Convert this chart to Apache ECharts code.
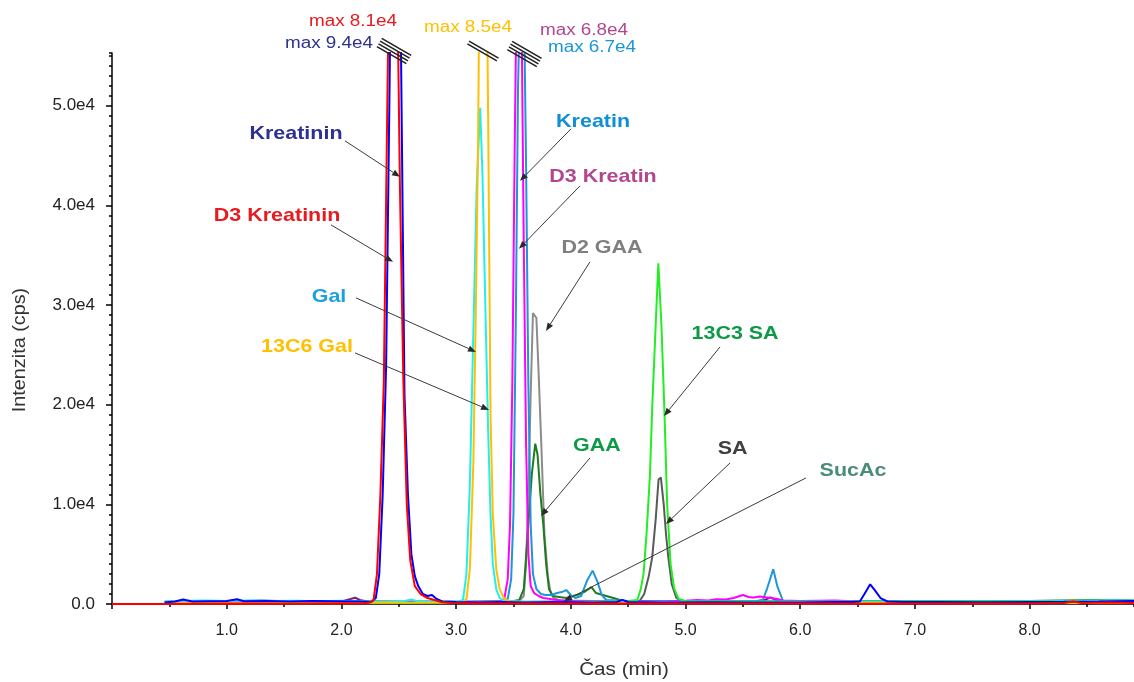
<!DOCTYPE html>
<html><head><meta charset="utf-8">
<script src="https://cdn.jsdelivr.net/npm/echarts@6/dist/echarts.min.js"></script>
<style>html,body{margin:0;padding:0;background:#fff}#c{width:1134px;height:682px}</style>
</head><body><div id="c"></div>
<script>
// ---- data: [time (min), intensity (cps)] ----
const sucAc = [[0.46,200],[1.0,220],[1.5,200],[2.0,250],[2.08,500],[2.12,630],[2.16,400],[2.25,200],[2.8,200],[3.5,200],[4.0,250],[4.5,200],[5.0,200],[5.6,250],[5.70,450],[5.74,670],[5.79,400],[5.85,250],[6.5,200],[7.5,220],[8.4,250],[8.91,250]];
const d2gaa = [[0.46,250],[1.0,280],[1.5,250],[2.0,270],[2.5,250],[3.0,230],[3.50,200],[3.55,300],[3.59,800],[3.61,4000],[3.63,11000],[3.65,21000],[3.67,29200],[3.70,28700],[3.72,23000],[3.745,15300],[3.77,7000],[3.80,2800],[3.82,1400],[3.85,600],[3.9,350],[4.2,300],[4.6,250],[5.0,250],[5.5,230],[6.0,250],[6.5,250],[7.0,230],[7.5,250],[8.0,270],[8.5,300],[8.91,300]];
const sa = [[0.46,200],[1.5,220],[2.5,200],[3.5,200],[4.55,200],[4.60,300],[4.64,1000],[4.68,2800],[4.71,4700],[4.74,8500],[4.765,12500],[4.785,12700],[4.81,10000],[4.83,7000],[4.85,4700],[4.88,2000],[4.92,600],[4.96,300],[5.5,200],[6.5,200],[7.5,220],[8.5,250],[8.91,250]];
const gaa = [[0.46,200],[0.7,300],[1.0,250],[1.3,350],[1.6,250],[1.9,300],[2.2,250],[2.6,200],[3.0,200],[3.50,300],[3.55,400],[3.59,1500],[3.63,8000],[3.66,13000],[3.69,16100],[3.71,15000],[3.735,11000],[3.76,8000],[3.785,4000],[3.81,1500],[3.84,800],[3.90,700],[3.96,600],[4.02,800],[4.08,1000],[4.13,1300],[4.18,1700],[4.22,1100],[4.28,900],[4.34,700],[4.40,500],[4.46,300],[4.8,250],[5.2,250],[5.6,250],[6.0,220],[6.5,250],[7.0,250],[7.5,280],[8.0,300],[8.3,350],[8.6,400],[8.91,300]];
const kreatin = [[0.46,200],[0.8,250],[1.2,220],[1.6,260],[2.0,230],[2.4,200],[2.8,250],[3.2,200],[3.40,250],[3.45,500],[3.48,2500],[3.50,9000],[3.52,28000],[3.54,52000],[3.57,67000],[3.59,62000],[3.61,44000],[3.63,22000],[3.65,8000],[3.67,3000],[3.70,1500],[3.74,1000],[3.78,900],[3.83,900],[3.88,1100],[3.92,1200],[3.96,1400],[4.00,900],[4.04,600],[4.09,800],[4.14,2300],[4.19,3350],[4.23,2300],[4.27,900],[4.31,400],[4.6,250],[5.0,200],[5.4,250],[5.60,250],[5.67,300],[5.71,1500],[5.765,3500],[5.80,1800],[5.85,300],[6.2,250],[6.8,220],[7.4,250],[8.0,260],[8.5,300],[8.75,400],[8.91,350]];
const d3kreatin = [[0.46,150],[1.0,200],[1.5,180],[2.0,200],[2.5,150],[3.0,200],[3.38,250],[3.42,500],[3.45,2500],[3.47,8000],[3.49,22000],[3.51,45000],[3.53,64000],[3.55,68000],[3.57,60000],[3.59,36000],[3.61,16000],[3.63,5000],[3.65,1800],[3.68,1100],[3.72,800],[3.76,600],[3.82,500],[3.88,400],[4.0,300],[4.4,250],[4.8,250],[5.0,330],[5.1,400],[5.2,350],[5.27,470],[5.35,450],[5.42,600],[5.50,900],[5.55,700],[5.59,650],[5.65,750],[5.74,600],[5.80,500],[5.85,350],[6.0,300],[6.3,350],[6.5,250],[7.0,200],[7.5,200],[8.0,220],[8.5,250],[8.91,250]];
const c13sa = [[0.46,150],[1.0,100],[1.5,150],[2.0,120],[2.5,100],[3.0,150],[3.5,150],[4.0,200],[4.50,300],[4.58,400],[4.61,1500],[4.635,3100],[4.66,7000],[4.69,13000],[4.71,19800],[4.74,28000],[4.763,34200],[4.79,28000],[4.815,19800],[4.84,10000],[4.87,4000],[4.90,1600],[4.94,500],[5.0,300],[5.5,250],[6.0,250],[6.5,250],[7.0,280],[7.5,300],[8.0,300],[8.5,350],[8.91,350]];
const gal = [[0.46,250],[0.6,300],[0.8,350],[1.0,300],[1.2,350],[1.4,300],[1.6,320],[1.8,280],[2.0,330],[2.2,250],[2.4,200],[2.55,300],[2.61,450],[2.67,250],[2.8,200],[3.02,250],[3.06,400],[3.09,3000],[3.12,12000],[3.15,27200],[3.18,42000],[3.21,49800],[3.23,43000],[3.26,27200],[3.28,17100],[3.30,9000],[3.32,4000],[3.35,1500],[3.38,600],[3.42,300],[3.6,250],[3.9,200],[4.3,200],[4.8,200],[5.3,180],[5.8,200],[6.3,200],[6.8,180],[7.3,200],[7.8,200],[8.2,250],[8.5,300],[8.7,350],[8.91,300]];
const c13gal = [[0.46,100],[1.0,100],[2.0,120],[3.0,150],[3.06,200],[3.09,500],[3.12,3500],[3.15,14000],[3.17,28000],[3.19,45000],[3.21,70000],[3.235,85000],[3.26,72000],[3.28,48000],[3.30,19000],[3.32,9000],[3.35,3500],[3.38,1500],[3.42,500],[3.47,250],[3.6,150],[4.5,100],[6.0,100],[8.91,100]];
const kreatinin = [[0.46,150],[0.55,250],[0.62,450],[0.70,250],[0.85,280],[1.00,300],[1.09,470],[1.15,280],[1.35,300],[1.55,260],[1.75,300],[1.95,280],[2.15,250],[2.26,200],[2.30,600],[2.33,3000],[2.36,11000],[2.39,24000],[2.42,52000],[2.45,86000],[2.47,94000],[2.49,84000],[2.52,55000],[2.55,21000],[2.58,11000],[2.61,5000],[2.64,2800],[2.67,1800],[2.71,1000],[2.75,800],[2.79,900],[2.83,500],[2.88,250],[3.0,200],[3.2,150],[3.4,200],[3.6,150],[3.9,200],[4.2,150],[4.40,200],[4.45,420],[4.50,200],[4.8,150],[5.2,180],[5.6,150],[6.0,150],[6.3,200],[6.45,200],[6.52,250],[6.56,1000],[6.61,1980],[6.65,1400],[6.70,600],[6.76,250],[6.9,200],[7.2,200],[7.6,180],[8.0,200],[8.3,220],[8.6,250],[8.91,300]];
const d3kreatinin = [[0,0],[0.5,0],[1.0,50],[1.5,30],[2.0,80],[2.2,50],[2.25,150],[2.28,400],[2.31,3000],[2.34,11000],[2.37,22400],[2.40,50000],[2.43,76000],[2.45,81000],[2.47,74000],[2.49,60000],[2.51,42000],[2.54,22400],[2.57,10000],[2.60,4400],[2.64,1800],[2.69,1000],[2.75,600],[2.81,400],[2.87,200],[2.95,100],[3.2,50],[3.6,40],[4.0,60],[4.5,40],[5.0,50],[5.5,40],[6.0,50],[6.5,30],[7.0,50],[7.5,40],[8.0,60],[8.3,100],[8.38,250],[8.45,100],[8.7,150],[8.91,100]];

// ---- axis texts ----
const xTitle = 'Čas (min)';
const yTitle = 'Intenzita (cps)';

// ---- traces (drawing order: last on top) ----
const traces = [
  {name:'SucAc', data:sucAc, color:'#7B1F7B'},
  {name:'D2 GAA', data:d2gaa, color:'#8C8C8C'},
  {name:'SA', data:sa, color:'#5A5A5A'},
  {name:'GAA', data:gaa, color:'#1E7B1E'},
  {name:'Kreatin', data:kreatin, color:'#1E96D8'},
  {name:'D3 Kreatin', data:d3kreatin, color:'#FF00FF'},
  {name:'13C3 SA', data:c13sa, color:'#22EE22'},
  {name:'Gal', data:gal, color:'#22EEEE'},
  {name:'13C6 Gal', data:c13gal, color:'#FFC000'},
  {name:'Kreatinin', data:kreatinin, color:'#0000FF'},
  {name:'D3 Kreatinin', data:d3kreatinin, color:'#FF0000'}
];

// ---- annotations (data coordinates) ----
const notes = [
  {text:'Kreatinin', color:'#2E3192', at:[1.604,47188], from:[2.031,46485], to:[2.511,42871]},
  {text:'D3 Kreatinin', color:'#E8191F', at:[1.439,38955], from:[1.909,38052], to:[2.450,34337]},
  {text:'Gal', color:'#1BA1E2', at:[1.892,30823], from:[2.127,30722], to:[3.173,25301]},
  {text:'13C6 Gal', color:'#FFC000', at:[1.700,25803], from:[2.119,25200], to:[3.287,19478]},
  {text:'Kreatin', color:'#0F8FD5', at:[4.194,48393], from:[4.002,47690], to:[3.557,42469]},
  {text:'D3 Kreatin', color:'#B2478F', at:[4.281,42871], from:[4.080,41967], to:[3.548,35642]},
  {text:'D2 GAA', color:'#7F7F7F', at:[4.272,35742], from:[4.167,34337], to:[3.784,27409]},
  {text:'13C3 SA', color:'#0D9A48', at:[5.432,27108], from:[5.301,25803], to:[4.813,18875]},
  {text:'GAA', color:'#0D9A48', at:[4.228,15863], from:[4.167,14658], to:[3.740,8835]},
  {text:'SA', color:'#404040', at:[5.410,15562], from:[5.388,14156], to:[4.830,8032]},
  {text:'SucAc', color:'#4A8C7C', at:[6.460,13353], from:[6.050,12650], to:[3.941,301]}
];
const maxNotes = [
  {text:'max 8.1e4', color:'#E8191F', at:[2.101,58410]},
  {text:'max 9.4e4', color:'#2E3192', at:[1.892,56202]},
  {text:'max 8.5e4', color:'#FFC000', at:[3.104,57858]},
  {text:'max 6.8e4', color:'#B2478F', at:[4.115,57506]},
  {text:'max 6.7e4', color:'#1A96D6', at:[4.185,55800]}
];
const breaks = [
  {at:[2.459,55500], n:4},
  {at:[3.234,55500], n:2},
  {at:[3.596,55200], n:4}
];

const FONT = 'Liberation Sans, Arial, sans-serif';
const chart = echarts.init(document.getElementById('c'), null, {renderer:'canvas'});
const axisLineStyle = {color:'#000', width:1.5};
chart.setOption({
  animation:false,
  backgroundColor:'#fff',
  grid:{left:112, right:0, top:53, bottom:78, containLabel:false},
  xAxis:[
    {type:'value', min:0, max:8.91, interval:1, position:'bottom',
     axisLine:{show:true, onZero:false, lineStyle:axisLineStyle},
     axisTick:{show:true, length:5, lineStyle:axisLineStyle},
     axisLabel:{formatter:v=> v===0?'':v.toFixed(1), showMaxLabel:false, color:'#222', fontSize:16, fontFamily:FONT, margin:19},
     splitLine:{show:false}},
    {type:'value', min:0, max:8.91, interval:0.5, position:'bottom',
     axisLine:{show:false, onZero:false}, axisTick:{show:true, length:3, lineStyle:axisLineStyle},
     axisLabel:{show:false}, splitLine:{show:false}}
  ],
  yAxis:[
    {type:'value', min:0, max:55300, interval:10000, position:'left',
     axisLine:{show:true, onZero:false, lineStyle:axisLineStyle},
     axisTick:{show:true, length:6, lineStyle:axisLineStyle},
     axisLabel:{formatter:v=> v===0?'0.0':(v/1e4).toFixed(1)+'e4', showMaxLabel:false, color:'#222', fontSize:17, fontFamily:FONT, margin:17},
     splitLine:{show:false}},
    {type:'value', min:0, max:55300, interval:1000, position:'left',
     axisLine:{show:false, onZero:false}, axisTick:{show:true, length:3, lineStyle:axisLineStyle},
     axisLabel:{show:false}, splitLine:{show:false}}
  ],
  series: traces.map(t=>({
    type:'line', name:t.name, data:t.data, xAxisIndex:0, yAxisIndex:0,
    showSymbol:false, symbol:'none', clip:true, smooth:false,
    lineStyle:{color:t.color, width:2}, itemStyle:{color:t.color}, silent:true
  }))
});

function px(p){ return chart.convertToPixel({seriesIndex:0}, p); }
function txt(x, y, text, font, fill, sx, rot){
  return {type:'text', x:x, y:y, rotation:rot||0, scaleX:sx||1, scaleY:1, z:11,
    style:{text:text, font:font, fill:fill, align:'center', verticalAlign:'middle', textAlign:'center', textVerticalAlign:'middle'}};
}
const g = [];
// axis titles
g.push(txt(624, 670, xTitle, '18px '+FONT, '#333', 1.15));
g.push(txt(20, 350, yTitle, '18px '+FONT, '#333', 1.1, Math.PI/2));
notes.forEach(n=>{
  const a = px(n.at), s = px(n.from), e = px(n.to);
  const dx = e[0]-s[0], dy = e[1]-s[1], L = Math.hypot(dx,dy), ux = dx/L, uy = dy/L;
  const hl = 8, hw = 3.2;
  const bx = e[0]-ux*hl, by = e[1]-uy*hl;
  g.push({type:'line', shape:{x1:s[0], y1:s[1], x2:bx, y2:by}, style:{stroke:'#3a3a3a', lineWidth:1}, z:10});
  g.push({type:'polygon', shape:{points:[[e[0],e[1]],[bx-uy*hw, by+ux*hw],[bx+uy*hw, by-ux*hw]]}, style:{fill:'#2a2a2a'}, z:10});
  g.push(txt(a[0], a[1], n.text, 'bold 19px '+FONT, n.color, 1.13));
});
maxNotes.forEach(n=>{
  const a = px(n.at);
  g.push(txt(a[0], a[1], n.text, '16px '+FONT, n.color, 1.18));
});
breaks.forEach(b=>{
  const c = px(b.at);
  const ang = 30*Math.PI/180, dxu = Math.cos(ang), dyu = Math.sin(ang), nx = -dyu, ny = dxu;
  for(let i=0;i<b.n;i++){
    const o = (i-(b.n-1)/2)*3.2;
    const cx = c[0]+nx*o, cy = c[1]+ny*o;
    g.push({type:'line', shape:{x1:cx-dxu*17, y1:cy-dyu*17, x2:cx+dxu*17, y2:cy+dyu*17}, style:{stroke:'#222', lineWidth:1.6}, z:12});
  }
});
chart.setOption({graphic:g});
</script>
</body></html>
